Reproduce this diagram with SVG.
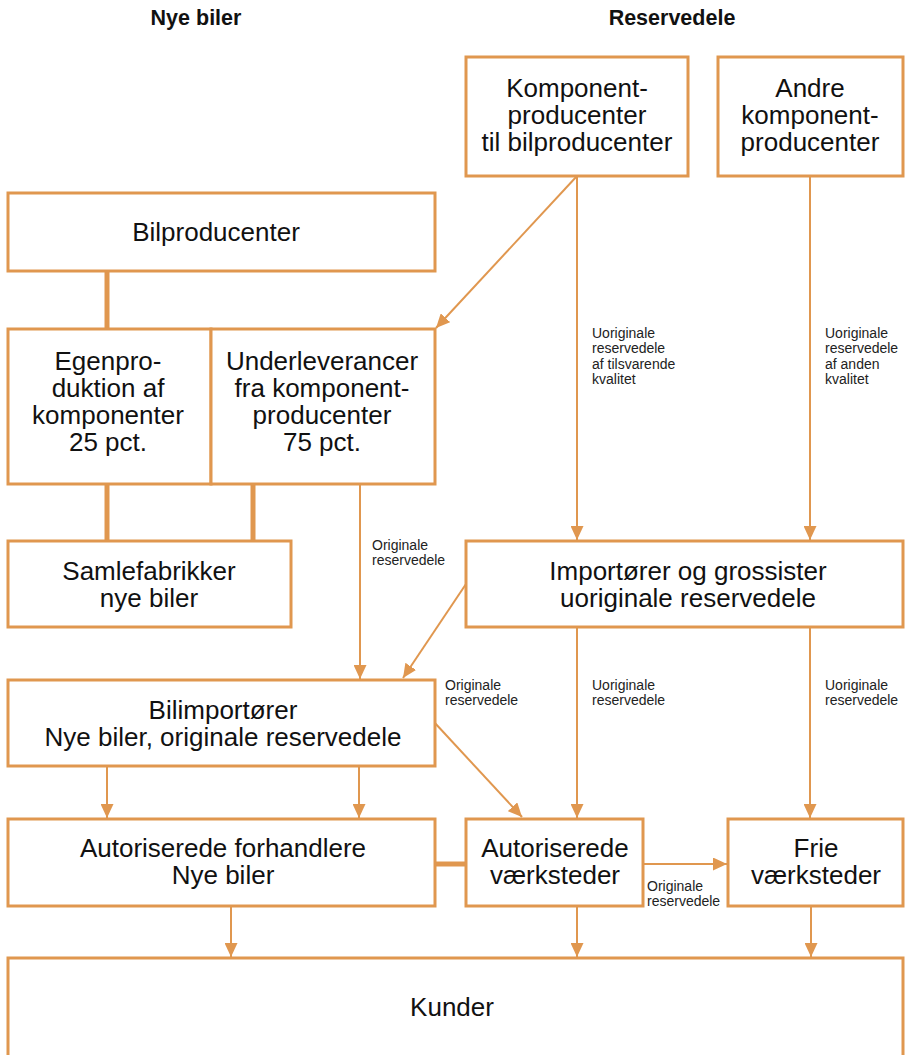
<svg xmlns="http://www.w3.org/2000/svg" width="905" height="1055" viewBox="0 0 905 1055">
<style>
.box{fill:#fff;stroke:#E0974F;stroke-width:3}
.c{fill:none;stroke:#E0974F;stroke-width:2}
.thick{fill:none;stroke:#E0974F;stroke-width:5}
.t{font-family:"Liberation Sans",Arial,sans-serif;font-size:26px;fill:#111;text-anchor:middle}
.s{font-family:"Liberation Sans",Arial,sans-serif;font-size:14px;fill:#222}
.h{font-family:"Liberation Sans",Arial,sans-serif;font-size:21.5px;font-weight:bold;fill:#111;text-anchor:middle}
</style>
<defs>
<marker id="arr" markerUnits="userSpaceOnUse" markerWidth="15" markerHeight="13" refX="14" refY="6.5" orient="auto">
<path d="M0,0 L14,6.5 L0,13 z" fill="#E0974F"/>
</marker>
</defs>
<text class="h" x="196" y="25">Nye biler</text>
<text class="h" x="672" y="25">Reservedele</text>
<g id="connectors">
<line class="thick" x1="107" y1="271" x2="107" y2="329"/>
<line class="c" x1="577" y1="176" x2="436" y2="328" marker-end="url(#arr)"/>
<line class="c" x1="577" y1="176" x2="577" y2="540" marker-end="url(#arr)"/>
<line class="c" x1="810" y1="176" x2="810" y2="540" marker-end="url(#arr)"/>
<line class="thick" x1="107" y1="484" x2="107" y2="541"/>
<line class="thick" x1="253" y1="484" x2="253" y2="541"/>
<line class="c" x1="360" y1="484" x2="360" y2="679" marker-end="url(#arr)"/>
<line class="c" x1="466" y1="584" x2="403" y2="678" marker-end="url(#arr)"/>
<line class="c" x1="577" y1="627" x2="577" y2="818" marker-end="url(#arr)"/>
<line class="c" x1="810" y1="627" x2="810" y2="818" marker-end="url(#arr)"/>
<line class="c" x1="107" y1="766" x2="107" y2="818" marker-end="url(#arr)"/>
<line class="c" x1="359" y1="766" x2="359" y2="818" marker-end="url(#arr)"/>
<line class="c" x1="434" y1="722" x2="522" y2="817" marker-end="url(#arr)"/>
<line class="thick" x1="434" y1="864" x2="466" y2="864"/>
<line class="c" x1="643" y1="864" x2="727" y2="864" stroke-width="3" marker-end="url(#arr)"/>
<line class="c" x1="231" y1="906" x2="231" y2="957" marker-end="url(#arr)"/>
<line class="c" x1="577" y1="906" x2="577" y2="957" marker-end="url(#arr)"/>
<line class="c" x1="811" y1="906" x2="811" y2="957" marker-end="url(#arr)"/>
<text class="s" x="592" y="338">Uoriginale</text>
<text class="s" x="592" y="353">reservedele</text>
<text class="s" x="592" y="369">af tilsvarende</text>
<text class="s" x="592" y="384">kvalitet</text>
<text class="s" x="825" y="338">Uoriginale</text>
<text class="s" x="825" y="353">reservedele</text>
<text class="s" x="825" y="369">af anden</text>
<text class="s" x="825" y="384">kvalitet</text>
<text class="s" x="372" y="550">Originale</text>
<text class="s" x="372" y="565">reservedele</text>
<text class="s" x="445" y="690">Originale</text>
<text class="s" x="445" y="705">reservedele</text>
<text class="s" x="592" y="690">Uoriginale</text>
<text class="s" x="592" y="705">reservedele</text>
<text class="s" x="825" y="690">Uoriginale</text>
<text class="s" x="825" y="705">reservedele</text>
<text class="s" x="647" y="891">Originale</text>
<text class="s" x="647" y="906">reservedele</text>
</g>
<g id="komp">
<rect class="box" x="466" y="57" width="222" height="119"/>
<text class="t" x="577" y="97">Komponent-</text>
<text class="t" x="577" y="124">producenter</text>
<text class="t" x="577" y="151">til bilproducenter</text>
</g>
<g id="andre">
<rect class="box" x="718" y="57" width="185" height="119"/>
<text class="t" x="810" y="97">Andre</text>
<text class="t" x="810" y="124">komponent-</text>
<text class="t" x="810" y="151">producenter</text>
</g>
<g id="bilproducenter">
<rect class="box" x="8" y="193" width="427" height="78"/>
<text class="t" x="216" y="241">Bilproducenter</text>
</g>
<g id="egenpro">
<rect class="box" x="8" y="329" width="203" height="155"/>
<text class="t" x="108" y="370">Egenpro-</text>
<text class="t" x="108" y="397">duktion af</text>
<text class="t" x="108" y="424">komponenter</text>
<text class="t" x="108" y="451">25 pct.</text>
</g>
<g id="underlev">
<rect class="box" x="211" y="329" width="224" height="155"/>
<text class="t" x="322" y="370">Underleverancer</text>
<text class="t" x="322" y="397">fra komponent-</text>
<text class="t" x="322" y="424">producenter</text>
<text class="t" x="322" y="451">75 pct.</text>
</g>
<g id="samle">
<rect class="box" x="8" y="541" width="283" height="86"/>
<text class="t" x="149" y="580">Samlefabrikker</text>
<text class="t" x="149" y="607">nye biler</text>
</g>
<g id="importorer">
<rect class="box" x="466" y="541" width="437" height="86"/>
<text class="t" x="688" y="580">Importører og grossister</text>
<text class="t" x="688" y="607">uoriginale reservedele</text>
</g>
<g id="bilimp">
<rect class="box" x="8" y="680" width="427" height="86"/>
<text class="t" x="223" y="719">Bilimportører</text>
<text class="t" x="223" y="746">Nye biler, originale reservedele</text>
</g>
<g id="forhandlere">
<rect class="box" x="8" y="819" width="427" height="87"/>
<text class="t" x="223" y="857">Autoriserede forhandlere</text>
<text class="t" x="223" y="884">Nye biler</text>
</g>
<g id="vaerksteder">
<rect class="box" x="466" y="819" width="177" height="87"/>
<text class="t" x="555" y="857">Autoriserede</text>
<text class="t" x="555" y="884">værksteder</text>
</g>
<g id="frie">
<rect class="box" x="728" y="819" width="175" height="87"/>
<text class="t" x="816" y="857">Frie</text>
<text class="t" x="816" y="884">værksteder</text>
</g>
<g id="kunder">
<rect class="box" x="8" y="958" width="895" height="110"/>
<text class="t" x="452" y="1016">Kunder</text>
</g>
</svg>
